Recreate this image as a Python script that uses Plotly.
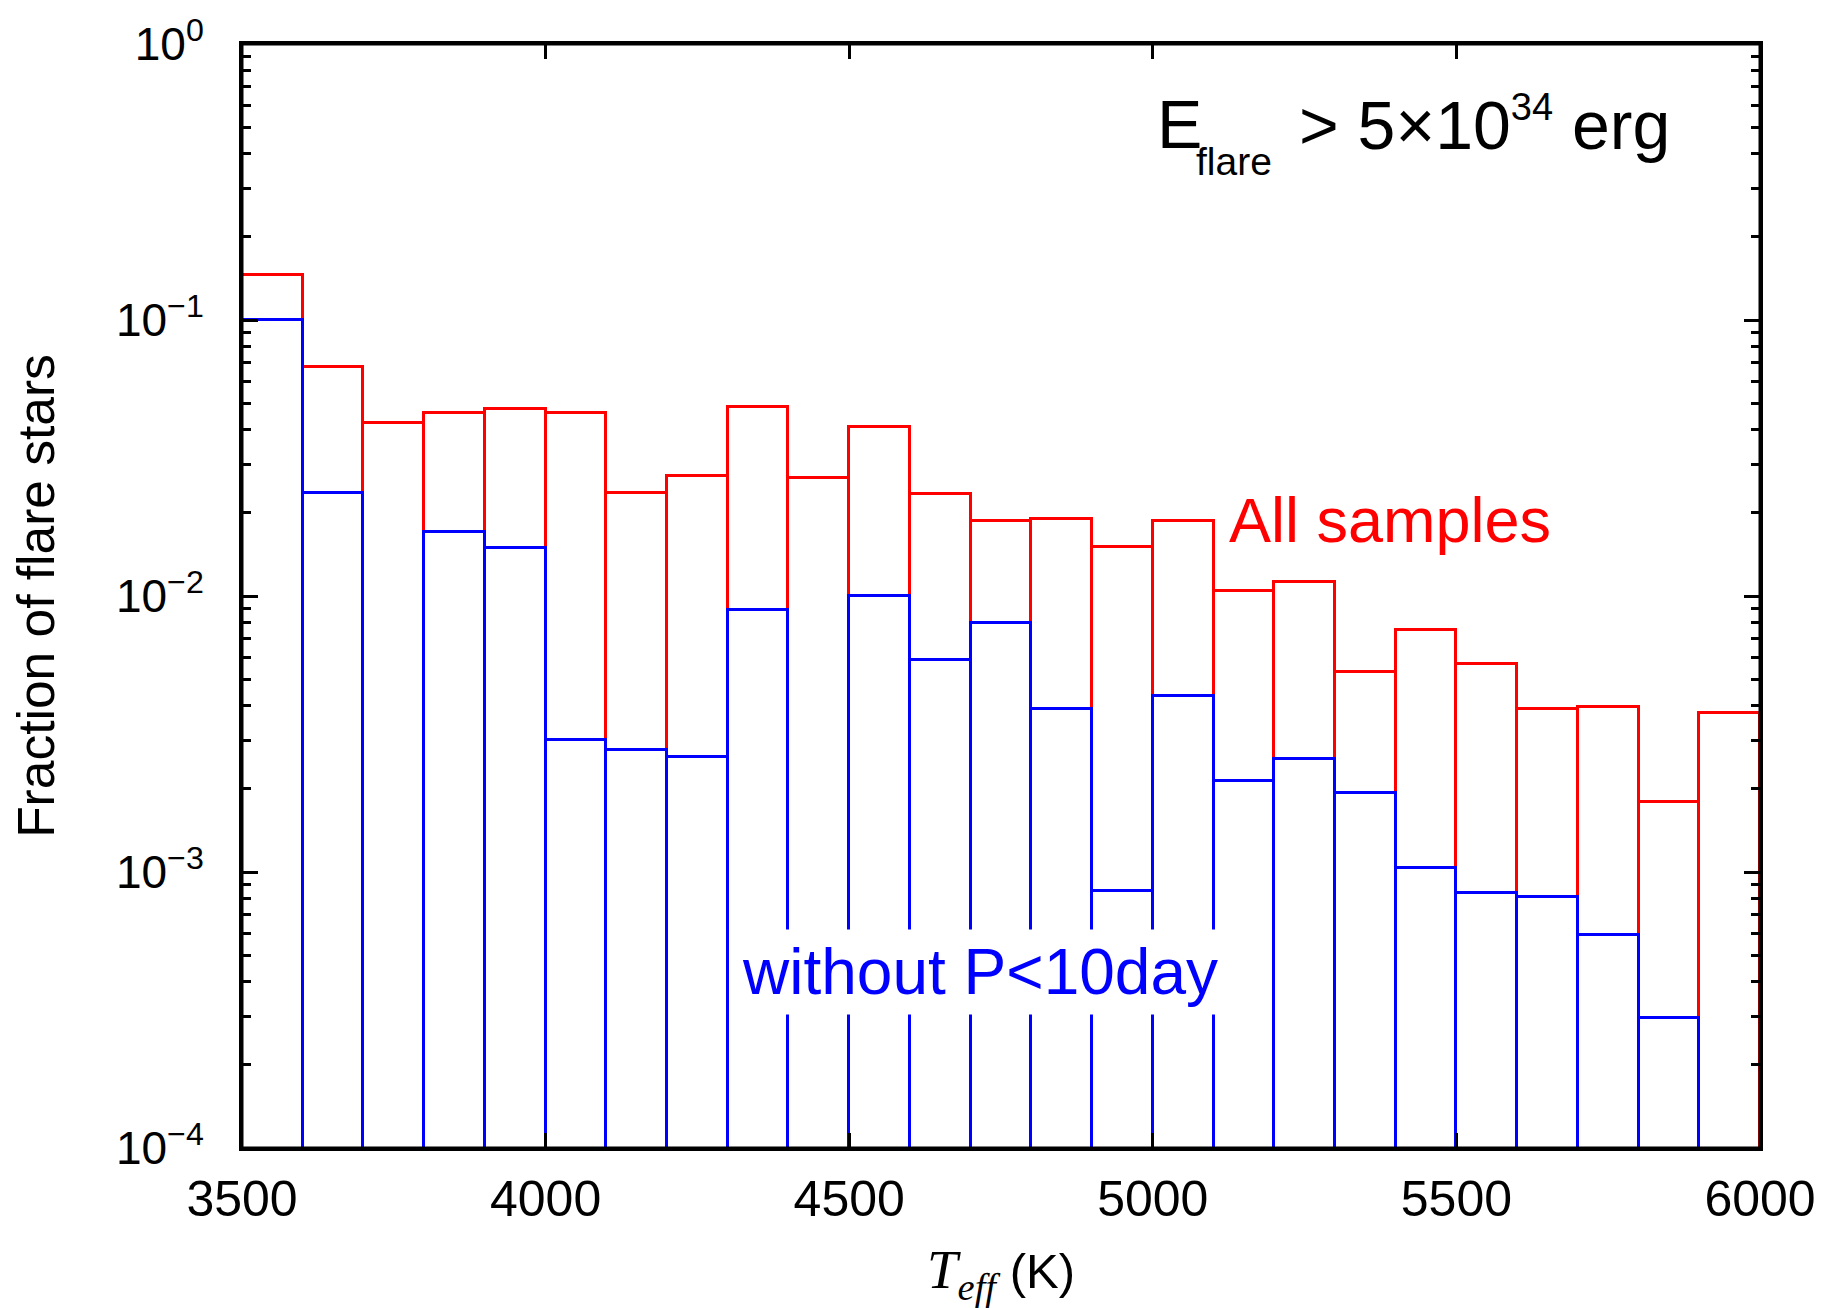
import plotly.graph_objects as go

# ---- data ----
bin_left = [3500, 3600, 3700, 3800, 3900, 4000, 4100, 4200, 4300, 4400,
            4500, 4600, 4700, 4800, 4900, 5000, 5100, 5200, 5300, 5400,
            5500, 5600, 5700, 5800, 5900]
bin_width = 100
frac_all = [0.146, 0.0675, 0.0423, 0.0460, 0.0474, 0.0462, 0.0236, 0.0273, 0.0485, 0.0268,
            0.0411, 0.0234, 0.0187, 0.0190, 0.0151, 0.0187, 0.0104, 0.0112, 0.00531, 0.0075,
            0.00566, 0.00390, 0.00395, 0.00179, 0.00376]
frac_noP10 = [0.100, 0.0236, 0, 0.0170, 0.0149, 0.00300, 0.00277, 0.00260, 0.0089, 0,
              0.0100, 0.00585, 0.0080, 0.00388, 0.000855, 0.00436, 0.00214, 0.00256, 0.00193, 0.00103,
              0.000836, 0.00081, 0.00059, 0.000296, 0]
ytick_vals = [1e-4, 1e-3, 1e-2, 1e-1, 1]
ytick_text = ["10<sup>\u22124</sup>", "10<sup>\u22123</sup>", "10<sup>\u22122</sup>",
              "10<sup>\u22121</sup>", "10<sup>0</sup>"]
xtick_vals = [3500, 4000, 4500, 5000, 5500, 6000]

centers = [b + bin_width / 2 for b in bin_left]
blue_x = [c for c, v in zip(centers, frac_noP10) if v > 0]
blue_y = [v for v in frac_noP10 if v > 0]

FONT = "Liberation Sans, Arial, Helvetica, sans-serif"
SERIF = "Liberation Serif, Times New Roman, serif"

fig = go.Figure()
fig.add_trace(go.Bar(
    x=centers, y=frac_all, width=bin_width,
    marker=dict(color="rgba(0,0,0,0)", line=dict(color="#ff0000", width=3)),
    showlegend=False, name="All samples"))
fig.add_trace(go.Bar(
    x=blue_x, y=blue_y, width=bin_width,
    marker=dict(color="rgba(0,0,0,0)", line=dict(color="#0000ff", width=3)),
    showlegend=False, name="without P<10day"))

minor_vals = [k * 10 ** n for n in range(-4, 0) for k in range(2, 10)]

fig.update_layout(
    width=1833, height=1308,
    margin=dict(l=242, r=73, t=44, b=160),
    paper_bgcolor="white", plot_bgcolor="white",
    barmode="overlay", bargap=0,
    font=dict(family=FONT, color="black"),
    showlegend=False,
)

fig.update_xaxes(
    range=[3500, 6000], tickvals=xtick_vals,
    ticks="inside", ticklen=15, tickwidth=2.5, tickcolor="black",
    showline=True, linecolor="black", linewidth=3, mirror="ticks",
    showgrid=False, zeroline=False, automargin=False,
    tickfont=dict(size=50, family=FONT),
    ticklabelstandoff=5,
    title=dict(
        text=('<span style="font-family:' + SERIF + ';font-size:55px"><i>T</i>'
              '<sub><i>eff</i></sub></span> (K)'),
        font=dict(size=49, family=FONT), standoff=50),
)
fig.update_yaxes(
    type="log", range=[-4, 0],
    tickvals=ytick_vals, ticktext=ytick_text,
    ticks="inside", ticklen=16, tickwidth=2.5, tickcolor="black",
    minor=dict(tickvals=minor_vals, ticks="inside", ticklen=9, tickwidth=2.5,
               tickcolor="black", showgrid=False),
    showline=True, linecolor="black", linewidth=3, mirror="ticks",
    showgrid=False, zeroline=False, automargin=False,
    tickfont=dict(size=46, family=FONT),
    ticklabelstandoff=26,
    title=dict(text="Fraction of flare stars", font=dict(size=51.5, family=FONT), standoff=45),
)

# frame drawn above the bars, as in the reference
fig.add_shape(type="rect", xref="paper", yref="paper", x0=0, x1=1, y0=0, y1=1,
              line=dict(color="black", width=3), layer="above")

# "E_flare > 5x10^34 erg" (the low, small subscript is placed as its own piece)
fig.add_annotation(
    x=5003, y=-0.290, xref="x", yref="y", xanchor="left", yanchor="middle",
    text="E", showarrow=False, font=dict(size=68, color="black", family=FONT))
fig.add_annotation(
    x=5068, y=-0.425, xref="x", yref="y", xanchor="left", yanchor="middle",
    text="flare", showarrow=False, font=dict(size=39, color="black", family=FONT))
fig.add_annotation(
    x=5238, y=-0.290, xref="x", yref="y", xanchor="left", yanchor="middle",
    text='> 5\u00d710<sup><span style="font-size:38px">34</span></sup> erg',
    showarrow=False, font=dict(size=68, color="black", family=FONT))

fig.add_annotation(
    x=5122, y=-1.725, xref="x", yref="y", xanchor="left", yanchor="middle",
    text="All samples", showarrow=False,
    font=dict(size=63, color="#ff0000", family=FONT))
fig.add_annotation(
    x=4715, y=-3.364, xref="x", yref="y", xanchor="center", yanchor="middle",
    text="without P<10day", showarrow=False, bgcolor="white", borderpad=6,
    font=dict(size=64, color="#0000ff", family=FONT))

fig.write_html("out.html")
